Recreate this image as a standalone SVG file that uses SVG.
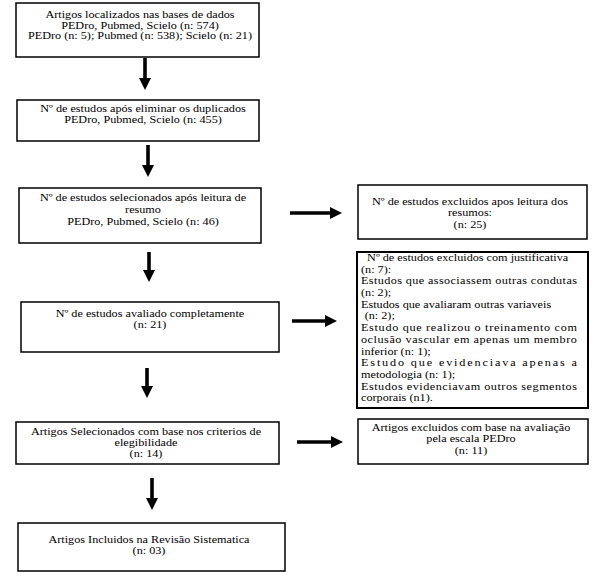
<svg xmlns="http://www.w3.org/2000/svg" width="600" height="577" viewBox="0 0 600 577">
<style>
.box{fill:#fff;stroke:#000;stroke-width:1.5}
.thick{stroke-width:2}
text{font-family:"Liberation Serif","Times New Roman",serif;font-size:10px;fill:#000}
.c{text-anchor:middle}
.arr{stroke:#000;stroke-width:3.6;fill:none;marker-end:url(#ah)}
</style>
<defs>
<marker id="ah" markerUnits="userSpaceOnUse" markerWidth="12" markerHeight="12" viewBox="0 0 12 12" refX="5" refY="6" orient="auto">
<path d="M0,0 L12,6 L0,12 z" fill="#000"/>
</marker>
</defs>
<rect width="600" height="577" fill="#fff"/>

<g id="connectors">
<line class="arr" x1="145" y1="58" x2="145" y2="83"/>
<line class="arr" x1="148" y1="145" x2="148" y2="170"/>
<line class="arr" x1="149" y1="252" x2="149" y2="275"/>
<line class="arr" x1="147" y1="368" x2="147" y2="391"/>
<line class="arr" x1="152" y1="478" x2="152" y2="503"/>
<line class="arr" x1="290" y1="213" x2="335" y2="213"/>
<line class="arr" x1="292" y1="321" x2="330" y2="321"/>
<line class="arr" x1="297" y1="442" x2="336" y2="442"/>
</g>

<g id="n1">
<rect class="box" x="16" y="3" width="243" height="54"/>
<g transform="translate(140,0) scale(1.22,1)">
<text class="c" x="0" y="18.5">Artigos localizados nas bases de dados</text>
<text class="c" x="0" y="29">PEDro, Pubmed, Scielo (n: 574)</text>
<text class="c" x="0" y="39.5">PEDro (n: 5); Pubmed (n: 538); Scielo (n: 21)</text>
</g>
</g>

<g id="n2">
<rect class="box" x="17" y="100" width="242" height="41"/>
<g transform="translate(143,0) scale(1.22,1)">
<text class="c" x="0" y="112">Nº de estudos após eliminar os duplicados</text>
<text class="c" x="0" y="123">PEDro, Pubmed, Scielo (n: 455)</text>
</g>
</g>

<g id="n3">
<rect class="box" x="19" y="188" width="242" height="55"/>
<g transform="translate(143,0) scale(1.22,1)">
<text class="c" x="0" y="201">Nº de estudos selecionados após leitura de</text>
<text class="c" x="0" y="213">resumo</text>
<text class="c" x="0" y="225">PEDro, Pubmed, Scielo (n: 46)</text>
</g>
</g>

<g id="n4">
<rect class="box" x="358" y="185" width="229" height="54"/>
<g transform="translate(470,0) scale(1.22,1)">
<text class="c" x="0" y="205.5">Nº de estudos excluidos apos leitura dos</text>
<text class="c" x="0" y="216.5">resumos:</text>
<text class="c" x="0" y="228">(n: 25)</text>
</g>
</g>

<g id="n5">
<rect class="box" x="21" y="302" width="258" height="50"/>
<g transform="translate(150,0) scale(1.22,1)">
<text class="c" x="0" y="317">Nº de estudos avaliado completamente</text>
<text class="c" x="0" y="328">(n: 21)</text>
</g>
</g>

<g id="n6">
<rect class="box thick" x="357" y="252" width="231" height="156"/>
<g transform="translate(361,0) scale(1.22,1)">
<text x="5" y="261">Nº de estudos excluidos com justificativa</text>
<text x="0" y="272.7">(n: 7):</text>
<text x="0" y="284.4" textLength="177" lengthAdjust="spacing">Estudos que associassem outras condutas</text>
<text x="0" y="296.1">(n: 2);</text>
<text x="0" y="307.8">Estudos que avaliaram outras variaveis</text>
<text x="3" y="319.5">(n: 2);</text>
<text x="0" y="331.2" textLength="177" lengthAdjust="spacing">Estudo que realizou o treinamento com</text>
<text x="0" y="342.9" textLength="177" lengthAdjust="spacing">oclusão vascular em apenas um membro</text>
<text x="0" y="354.6">inferior (n: 1);</text>
<text x="0" y="366.3" textLength="177" lengthAdjust="spacing">Estudo que evidenciava apenas a</text>
<text x="0" y="378">metodologia (n: 1);</text>
<text x="0" y="389.7" textLength="177" lengthAdjust="spacing">Estudos evidenciavam outros segmentos</text>
<text x="0" y="401.4">corporais (n1).</text>
</g>
</g>

<g id="n7">
<rect class="box" x="16" y="422" width="263" height="42"/>
<g transform="translate(146,0) scale(1.22,1)">
<text class="c" x="0" y="435">Artigos Selecionados com base nos criterios de</text>
<text class="c" x="0" y="446">elegibilidade</text>
<text class="c" x="0" y="457">(n: 14)</text>
</g>
</g>

<g id="n8">
<rect class="box" x="358" y="419" width="230" height="45"/>
<g transform="translate(471,0) scale(1.22,1)">
<text class="c" x="0" y="431">Artigos excluidos com base na avaliação</text>
<text class="c" x="0" y="442.5">pela escala PEDro</text>
<text class="c" x="0" y="454">(n: 11)</text>
</g>
</g>

<g id="n9">
<rect class="box" x="18" y="523" width="267" height="48"/>
<g transform="translate(149,0) scale(1.22,1)">
<text class="c" x="0" y="543">Artigos Incluidos na Revisão Sistematica</text>
<text class="c" x="0" y="554">(n: 03)</text>
</g>
</g>
</svg>
